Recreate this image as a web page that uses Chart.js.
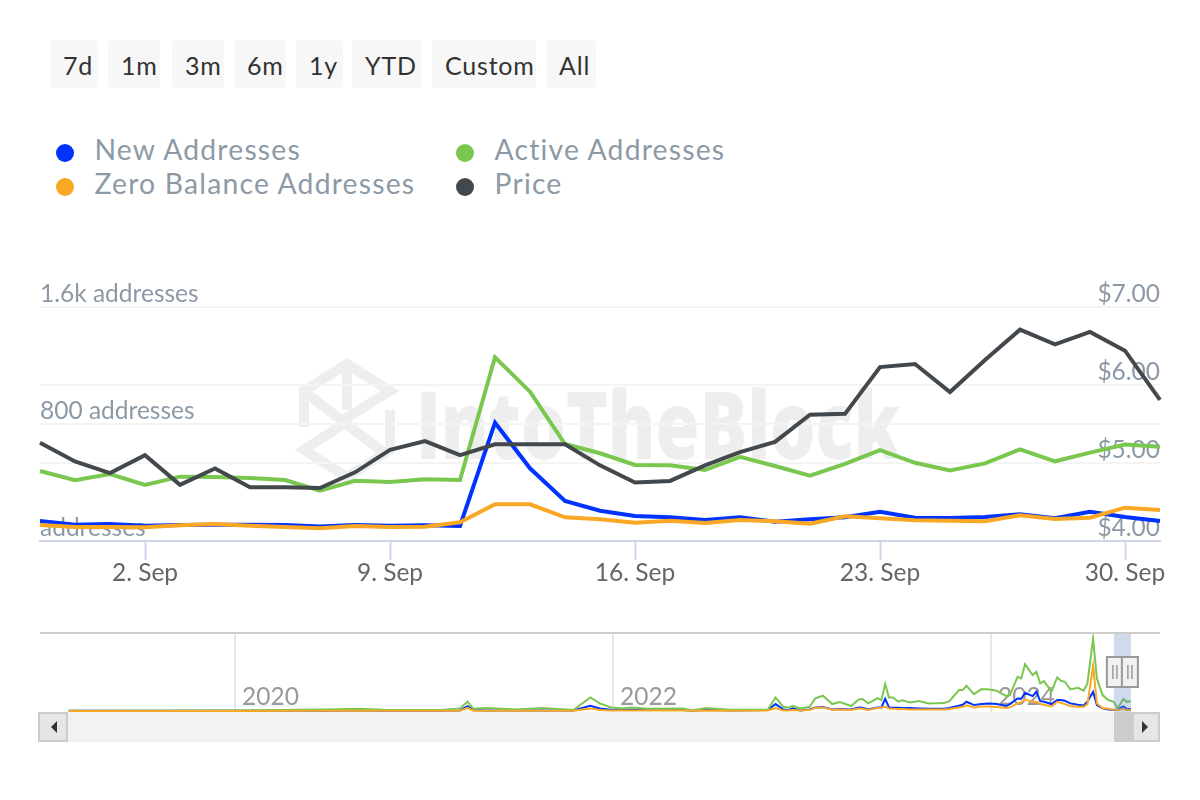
<!DOCTYPE html>
<html><head><meta charset="utf-8">
<script src="https://cdn.jsdelivr.net/npm/chart.js@4"></script>
<style>
html,body{margin:0;padding:0;background:#fff;width:1200px;height:800px;overflow:hidden;font-family:Lato,sans-serif}
.abs{position:absolute}
.btn{position:absolute;top:40px;height:48px;line-height:50px;background:#f7f7f7;border-radius:4px;color:#333;font-size:25px;padding-left:13px;box-sizing:border-box;letter-spacing:.8px;white-space:nowrap}
.dot{position:absolute;width:18px;height:18px;border-radius:50%}
.lg{position:absolute;font-size:28.3px;color:#8c99a6;line-height:34px;letter-spacing:1.2px;white-space:nowrap}
#wm{position:absolute;left:416px;top:368px;font:800 94px/110px "Open Sans",sans-serif;color:#eeeeee;white-space:nowrap;transform:scaleX(.755);transform-origin:0 0}
canvas{position:absolute;left:0}
.sb{position:absolute;box-sizing:border-box}
</style></head><body>
<svg class="abs" style="left:0;top:0" width="500" height="500" fill="none" stroke="#eeeeee" stroke-width="10">
<path d="M304 427 V391 L347 364 L390 391 L345 419"/><path d="M347 368 V410"/><path d="M306 393 L388 456"/><path d="M390 410 V450 L347 477 L304 450 L345 423"/></svg>
<div id="wm">IntoTheBlock</div>
<div id="btns"></div><div id="legend"></div>
<canvas id="main" width="1200" height="330" style="top:260px;width:1200px;height:330px"></canvas>
<canvas id="nav" width="1200" height="95" style="top:625px;width:1200px;height:95px"></canvas>
<div class="sb" style="left:38px;top:712px;width:1122px;height:30px;background:#f2f2f2"></div>
<div class="sb" style="left:38px;top:712px;width:30px;height:30px;background:#e6e6e6;border:2px solid #ccc"><svg width="26" height="26"><path d="M17 7 L11 13 L17 19 Z" fill="#333"/></svg></div>
<div class="sb" style="left:1132px;top:712px;width:28px;height:30px;background:#e6e6e6;border:2px solid #ccc"><svg width="24" height="26"><path d="M8 7 L14 13 L8 19 Z" fill="#333"/></svg></div>
<div class="sb" style="left:1114px;top:712px;width:18px;height:30px;background:#ccc"></div>
<script>
const buttons = ["7d","1m","3m","6m","1y","YTD","Custom","All"];
const seriesNames = ["New Addresses","Active Addresses","Zero Balance Addresses","Price"];
const seriesColors = ["#0033ff","#7ac74f","#f9a825","#43484d"];
const days = ["30. Aug","31. Aug","1. Sep","2. Sep","3. Sep","4. Sep","5. Sep","6. Sep","7. Sep","8. Sep","9. Sep","10. Sep","11. Sep","12. Sep","13. Sep","14. Sep","15. Sep","16. Sep","17. Sep","18. Sep","19. Sep","20. Sep","21. Sep","22. Sep","23. Sep","24. Sep","25. Sep","26. Sep","27. Sep","28. Sep","29. Sep","30. Sep","1. Oct"];
const xTickLabels = ["2. Sep","9. Sep","16. Sep","23. Sep","30. Sep"];
const newAddresses = [137,111,116,105,109,111,111,109,100,109,105,107,103,809,497,274,207,171,162,144,162,132,148,162,200,159,157,164,183,155,200,164,137];
const activeAddresses = [479,415,458,383,440,438,431,417,344,412,403,422,417,1256,1021,663,600,520,518,485,576,513,447,527,622,535,483,531,627,545,604,659,645];
const zeroBalance = [109,96,96,94,107,116,105,96,87,103,96,98,128,251,251,162,148,125,139,123,144,135,118,169,155,142,139,135,176,150,159,228,212];
const price = [5.26,5.02,4.87,5.10,4.72,4.93,4.69,4.69,4.68,4.88,5.17,5.28,5.10,5.24,5.24,5.24,4.97,4.75,4.77,4.97,5.14,5.27,5.62,5.63,6.23,6.27,5.91,6.32,6.71,6.52,6.68,6.44,5.81];
const leftTicks = {0:"addresses",800:"800 addresses",1600:"1.6k addresses"};
const navYearLabels = [2020,2022,2024];
const navYears = [2019.12,2019.97,2020.48,2020.66,2020.78,2021.09,2021.19,2021.23,2021.26,2021.33,2021.49,2021.63,2021.79,2021.88,2021.93,2021.99,2022.05,2022.09,2022.19,2022.37,2022.42,2022.49,2022.62,2022.82,2022.86,2022.90,2022.93,2022.95,2022.99,2023.04,2023.07,2023.11,2023.16,2023.20,2023.26,2023.30,2023.32,2023.35,2023.40,2023.42,2023.44,2023.46,2023.48,2023.51,2023.53,2023.57,2023.62,2023.67,2023.75,2023.78,2023.83,2023.85,2023.87,2023.91,2023.95,2023.99,2024.03,2024.08,2024.10,2024.14,2024.16,2024.18,2024.22,2024.24,2024.26,2024.28,2024.32,2024.35,2024.37,2024.39,2024.42,2024.46,2024.49,2024.51,2024.54,2024.56,2024.59,2024.62,2024.65,2024.67,2024.70,2024.72,2024.74];
const navActive = [32,64,160,224,128,96,256,896,224,288,160,288,96,1312,736,352,256,352,224,256,64,288,128,160,1312,416,320,512,256,416,1216,1472,672,864,480,1120,1152,736,1248,1056,2592,1312,1312,896,1024,832,960,736,768,960,2016,2016,2432,1632,2112,2080,1952,1440,1536,3296,3136,4512,3456,3776,2656,2880,1888,3232,2912,2816,2080,2240,1952,2656,6944,3136,1536,1056,896,256,1152,864,960];
const navNew = [32,32,40,48,40,40,64,480,96,64,64,64,64,510,256,128,96,128,96,96,32,128,64,96,672,160,96,256,64,160,352,384,160,192,160,352,320,160,352,352,1184,352,320,320,288,288,256,224,224,288,512,608,896,576,672,736,672,480,672,1216,1184,1760,1440,1856,960,896,672,1056,1056,992,736,608,544,896,1856,576,256,160,96,160,448,192,192];
const navZero = [0,10,20,20,20,20,32,320,32,32,32,32,32,256,96,64,64,64,64,64,32,64,32,64,288,64,64,96,64,96,320,352,128,160,96,256,224,96,288,352,416,256,224,192,192,160,160,160,160,192,352,416,544,352,448,448,384,288,352,736,832,1120,864,896,672,608,448,896,800,672,480,416,416,672,4320,736,288,224,128,96,192,96,96];
const navRangeYears = [2024.65,2024.74];

buttons.forEach((t,i)=>{const pos=[[50,48],[108,52],[172,52],[234,52],[296,47],[352,70],[432,104],[546,50]][i];
 const d=document.createElement('div');d.className='btn';d.style.left=pos[0]+'px';d.style.width=pos[1]+'px';d.textContent=t;btns.appendChild(d);});
seriesNames.forEach((t,i)=>{const x=i%2?456:56,y=i<2?150:184;
 const dot=document.createElement('div');dot.className='dot';dot.style.cssText=`left:${x}px;top:${y-6}px;background:${seriesColors[i]}`;legend.appendChild(dot);
 const l=document.createElement('div');l.className='lg';l.style.left=(x+38.5)+'px';l.style.top=(y-18)+'px';l.textContent=t;legend.appendChild(l);});

const tickFont={family:'Lato',size:24.5};
new Chart(document.getElementById('main'),{type:'line',
 data:{labels:days,datasets:[newAddresses,activeAddresses,zeroBalance,price].map((d,i)=>({label:seriesNames[i],data:d,borderColor:seriesColors[i],borderWidth:4,pointRadius:0,tension:0,yAxisID:i===3?'yr':'yl',order:3-i,borderJoinStyle:'miter'}))},
 options:{responsive:false,animation:false,devicePixelRatio:1,layout:{padding:{left:40,right:40,top:47,bottom:0}},
  plugins:{legend:{display:false},tooltip:{enabled:false}},
  scales:{
   x:{offset:false,afterFit:s=>{s.height=49},border:{color:'#ccd6eb',width:2},
      grid:{drawOnChartArea:false,tickLength:19,tickWidth:2,tickColor:c=>xTickLabels.includes(days[c.index])?'#ccd6eb':'rgba(0,0,0,0)'},
      ticks:{autoSkip:false,maxRotation:0,padding:-2,color:'#666',font:tickFont,callback:function(v,i){return xTickLabels.includes(days[i])?days[i]:''}}},
   yl:{position:'left',min:0,max:1600,border:{display:false},grid:{color:'#f4f4f4',lineWidth:2,drawTicks:false},
      ticks:{mirror:true,padding:0,labelOffset:-13,stepSize:800,color:'#8c99a6',font:tickFont,callback:v=>leftTicks[v]}},
   yr:{position:'right',min:4,max:7,border:{display:false},grid:{color:'#f4f4f4',lineWidth:2,drawTicks:false},
      ticks:{mirror:true,padding:0,labelOffset:-13,stepSize:1,color:'#8c99a6',font:tickFont,callback:v=>'$'+v.toFixed(2)}}
  }}});

const navPlugin={id:'navChrome',afterDraw(ch){const {ctx,chartArea:a,scales:{x}}=ch;
  const l=x.getPixelForValue(navRangeYears[0]),r=x.getPixelForValue(navRangeYears[1]);
  ctx.save();
  ctx.fillStyle='rgba(102,133,194,0.3)';ctx.fillRect(l,a.top,r-l,a.bottom-a.top);
  ctx.strokeStyle='#ccc';ctx.lineWidth=2;ctx.beginPath();ctx.moveTo(a.left,a.top);ctx.lineTo(a.right,a.top);ctx.stroke();
  const hy=a.top+24,hh=30;
  [l-7,r-9].forEach(hx=>{ctx.fillStyle='#f2f2f2';ctx.strokeStyle='#999';ctx.lineWidth=2;ctx.fillRect(hx,hy,16,hh);ctx.strokeRect(hx,hy,16,hh);
    ctx.beginPath();ctx.moveTo(hx+6,hy+8);ctx.lineTo(hx+6,hy+hh-8);ctx.moveTo(hx+10,hy+8);ctx.lineTo(hx+10,hy+hh-8);ctx.strokeStyle='#999';ctx.lineWidth=1.5;ctx.stroke();});
  ctx.restore();}};
new Chart(document.getElementById('nav'),{type:'line',plugins:[navPlugin],
 data:{datasets:[navNew,navActive,navZero].map((d,i)=>({label:seriesNames[i],data:d.map((v,k)=>({x:navYears[k],y:v})),borderColor:seriesColors[i],borderWidth:2,pointRadius:0,tension:0,order:2-i}))},
 options:{responsive:false,animation:false,devicePixelRatio:1,parsing:false,layout:{padding:{left:40,right:40,top:8,bottom:8}},
  plugins:{legend:{display:false},tooltip:{enabled:false}},
  scales:{
   y:{display:false,min:-90,max:7500},
   x:{type:'linear',min:2018.968,max:2024.894,afterFit:s=>{s.height=0},border:{display:false},afterBuildTicks:s=>{s.ticks=navYearLabels.map(v=>({value:v}))},
      grid:{color:'#e6e6e6',lineWidth:2,drawTicks:false},
      ticks:{autoSkip:false,mirror:true,maxRotation:0,align:'start',labelOffset:7,padding:0,z:-1,color:'#999',font:{family:'Lato',size:24.5},callback:v=>String(v)}}
  }}});
</script></body></html>
